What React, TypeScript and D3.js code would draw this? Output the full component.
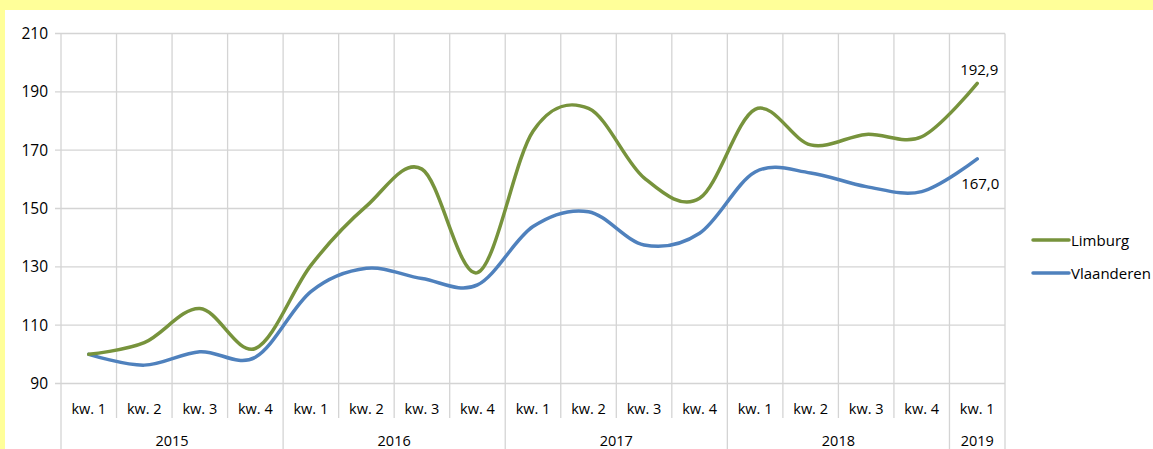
import React from "react";
import * as d3 from "d3";

// ── Data ─────────────────────────────────────────────────────────────
const quarters = ["kw. 1", "kw. 2", "kw. 3", "kw. 4", "kw. 1", "kw. 2", "kw. 3", "kw. 4",
  "kw. 1", "kw. 2", "kw. 3", "kw. 4", "kw. 1", "kw. 2", "kw. 3", "kw. 4", "kw. 1"];
const years = ["2015", "2016", "2017", "2018", "2019"];
const yearSpans = [4, 4, 4, 4, 1];
const limburg = [100, 104, 115.7, 102, 130.5, 150.8, 163.5, 128, 176.5, 184.3, 160.5, 153.5,
  184, 171.8, 175.4, 174.6, 192.9];
const vlaanderen = [100, 96.3, 100.9, 99, 121.5, 129.5, 126, 123.8, 143.8, 148.9, 137.5, 141.5,
  162.5, 162.2, 157.5, 155.8, 167.0];
const yTicks = [90, 110, 130, 150, 170, 190, 210];

const W = 1153;
const H = 449;
const FONT = "'Open Sans', Lato, sans-serif";
const GREEN = "#77933C";
const BLUE = "#4F81BD";
const GRID = "#d4d4d4";

const x = d3.scaleBand<number>().domain(d3.range(quarters.length)).range([61, 1005]);
const y = d3.scaleLinear().domain([90, 210]).range([383.5, 33.5]);
const cx = (i: number) => (x(i) ?? 0) + x.bandwidth() / 2;

const line = d3.line<number>()
  .x((_, i) => cx(i))
  .y((d) => y(d))
  .curve(d3.curveCatmullRom.alpha(0));

const fmt = (v: number) => v.toFixed(1).replace(".", ",");

export default function App() {
  const last = quarters.length - 1;
  // year boundaries (category indices)
  const yearStarts = yearSpans.reduce<number[]>((acc, s, i) => {
    acc.push(i === 0 ? 0 : acc[i - 1] + yearSpans[i - 1]);
    return acc;
  }, []);
  const boundarySet = new Set([...yearStarts, quarters.length]);
  const bx = (i: number) => (i >= quarters.length ? 1005 : (x(i) ?? 0));

  return (
    <svg width={W} height={H} style={{ position: "absolute", left: 0, top: 0 }} fontFamily={FONT}>
      <rect width={W} height={H} fill="#FFFF99" />
      <rect x={5} y={10} width={W - 5} height={H - 10} fill="#fff" />

      {/* horizontal grid + ticks */}
      {yTicks.map((t) => (
        <g key={t}>
          <line x1={55} x2={1005} y1={y(t)} y2={y(t)} stroke={GRID} strokeWidth={1.3} />
          <text x={48} y={y(t)} dy="0.36em" textAnchor="end" fontSize={15.5} fill="#000">{t}</text>
        </g>
      ))}

      {/* vertical grid lines and category separators */}
      {d3.range(quarters.length + 1).map((i) => (
        <line key={i} x1={bx(i)} x2={bx(i)} y1={y(210)}
          y2={boundarySet.has(i) ? H : 418} stroke={GRID} strokeWidth={1.3} />
      ))}

      {/* category labels */}
      {quarters.map((q, i) => (
        <text key={i} x={cx(i)} y={409} dy="0.36em" textAnchor="middle" fontSize={14.5} fill="#000">{q}</text>
      ))}
      {years.map((yr, j) => {
        const a = bx(yearStarts[j]);
        const b = bx(yearStarts[j] + yearSpans[j]);
        return (
          <text key={yr} x={(a + b) / 2} y={441} dy="0.36em" textAnchor="middle" fontSize={14.5} fill="#000">{yr}</text>
        );
      })}

      {/* series */}
      <path d={line(vlaanderen) ?? ""} fill="none" stroke={BLUE} strokeWidth={3.5} strokeLinecap="round" />
      <path d={line(limburg) ?? ""} fill="none" stroke={GREEN} strokeWidth={3.5} strokeLinecap="round" />

      {/* data labels on last point */}
      <text x={cx(last) + 2} y={y(limburg[last]) - 8} textAnchor="middle" fontSize={15} fill="#000">{fmt(limburg[last])}</text>
      <text x={cx(last) + 3} y={y(vlaanderen[last]) + 35} dy="-0.36em" textAnchor="middle" fontSize={15} fill="#000">{fmt(vlaanderen[last])}</text>

      {/* legend */}
      {[{ name: "Limburg", c: GREEN, yy: 240 }, { name: "Vlaanderen", c: BLUE, yy: 273 }].map((l) => (
        <g key={l.name}>
          <line x1={1033} x2={1069} y1={l.yy} y2={l.yy} stroke={l.c} strokeWidth={3.5} strokeLinecap="round" />
          <text x={1071} y={l.yy + 1} dy="0.36em" fontSize={15} fill="#000">{l.name}</text>
        </g>
      ))}
    </svg>
  );
}
